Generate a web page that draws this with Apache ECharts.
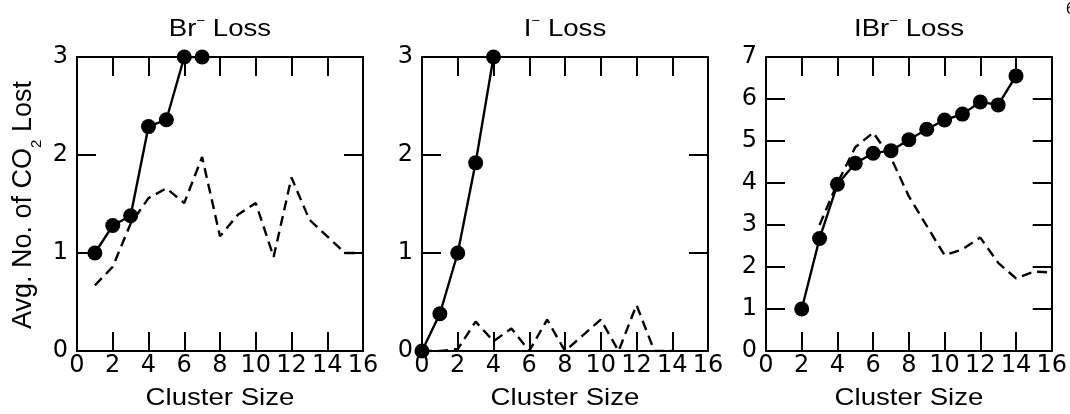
<!DOCTYPE html>
<html>
<head>
<meta charset="utf-8">
<script src="https://cdn.jsdelivr.net/npm/echarts@6/dist/echarts.min.js"></script>
<style>
html,body{margin:0;padding:0;background:#fff;}
#c{width:1070px;height:414px;}
</style>
</head>
<body>
<div id="c"></div>
<script>
// ---- data ----
var panelTitles = ['Br{sup|\u2212} Loss', 'I{sup|\u2212} Loss', 'IBr{sup|\u2212} Loss'];
var xTicks = [0, 2, 4, 6, 8, 10, 12, 14, 16];
var yMaxes = [3, 3, 7];

var brSolidX = [1, 2, 3, 4, 5, 6, 7];
var brSolidY = [1.0, 1.28, 1.38, 2.29, 2.36, 3.0, 3.0];
var brDashX = [1, 2, 3, 4, 5, 6, 7, 8, 9, 10, 11, 12, 13, 14, 15, 16];
var brDashY = [0.67, 0.86, 1.3, 1.56, 1.66, 1.51, 1.98, 1.17, 1.39, 1.51, 0.96, 1.77, 1.34, 1.17, 1.0, 1.0];

var iSolidX = [0, 1, 2, 3, 4];
var iSolidY = [0, 0.38, 1.0, 1.92, 3.0];
var iDashX = [0, 1, 2, 3, 4, 5, 6, 7, 8, 9, 10, 11, 12, 13, 14];
var iDashY = [0, 0, 0.02, 0.30, 0.10, 0.23, 0, 0.32, 0, 0.16, 0.32, 0, 0.47, 0, 0];

var ibrSolidX = [2, 3, 4, 5, 6, 7, 8, 9, 10, 11, 12, 13, 14];
var ibrSolidY = [1.0, 2.68, 3.97, 4.47, 4.71, 4.77, 5.03, 5.28, 5.5, 5.64, 5.93, 5.86, 6.55];
var ibrDashX = [3, 4, 5, 6, 7, 8, 9, 10, 11, 12, 13, 14, 15, 16];
var ibrDashY = [3.0, 4.0, 4.85, 5.2, 4.6, 3.68, 2.98, 2.28, 2.42, 2.7, 2.1, 1.73, 1.89, 1.87];

var xName = 'Cluster Size';
var yName = 'Avg. No. of CO{s|2} Lost';
var cornerText = '6';

// ---- chart ----
function pairs(xs, ys) { return xs.map(function (x, i) { return [x, ys[i]]; }); }
var FONT = '"Liberation Sans", Arial, sans-serif';
var TICKFONT = '"DejaVu Sans", sans-serif';
var gridLefts = [77, 422, 766];
var GW = 286, GT = 57, GH = 294;

var grids = [], xAxes = [], yAxes = [], series = [], graphics = [];
var solids = [[brSolidX, brSolidY], [iSolidX, iSolidY], [ibrSolidX, ibrSolidY]];
var dashes = [[brDashX, brDashY], [iDashX, iDashY], [ibrDashX, ibrDashY]];

var axisLine = { show: true, onZero: false, lineStyle: { color: '#000', width: 2 } };
var tick = { show: true, inside: true, length: 19, lineStyle: { color: '#000', width: 2 } };

for (var p = 0; p < 3; p++) {
  grids.push({ left: gridLefts[p], top: GT, width: GW, height: GH, containLabel: false });
  xAxes.push({
    gridIndex: p, type: 'value', position: 'bottom', min: 0, max: 16, interval: 2,
    axisLine: axisLine, axisTick: tick, splitLine: { show: false },
    axisLabel: { show: true, color: '#000', fontSize: 24, fontFamily: TICKFONT, margin: 3 }
  });
  xAxes.push({
    gridIndex: p, type: 'value', position: 'top', min: 0, max: 16, interval: 2,
    axisLine: axisLine, axisTick: tick, splitLine: { show: false },
    axisLabel: { show: false }
  });
  yAxes.push({
    gridIndex: p, type: 'value', position: 'left', min: 0, max: yMaxes[p], interval: 1,
    axisLine: axisLine, axisTick: tick, splitLine: { show: false },
    axisLabel: { show: true, color: '#000', fontSize: 24, fontFamily: TICKFONT, margin: 9 }
  });
  yAxes.push({
    gridIndex: p, type: 'value', position: 'right', min: 0, max: yMaxes[p], interval: 1,
    axisLine: axisLine, axisTick: tick, splitLine: { show: false },
    axisLabel: { show: false }
  });

  series.push({
    type: 'line', xAxisIndex: 2 * p, yAxisIndex: 2 * p,
    data: pairs(dashes[p][0], dashes[p][1]),
    symbol: 'none', silent: true, animation: false,
    lineStyle: { color: '#000', width: 2.4, type: [10, 6] }
  });
  series.push({
    type: 'line', xAxisIndex: 2 * p, yAxisIndex: 2 * p,
    data: pairs(solids[p][0], solids[p][1]),
    symbol: 'circle', symbolSize: 15, silent: true, animation: false,
    itemStyle: { color: '#000' },
    lineStyle: { color: '#000', width: 2.4 }
  });

  graphics.push({
    type: 'text', x: gridLefts[p] + GW / 2, y: 29, scaleX: 1.15,
    style: {
      text: panelTitles[p], fontSize: 24, fontFamily: FONT, fill: '#000',
      lineHeight: 28, textAlign: 'center', textVerticalAlign: 'middle',
      rich: { sup: { fontSize: 13, fontFamily: FONT, fill: '#000', lineHeight: 13, verticalAlign: 'top' } }
    }
  });
  graphics.push({
    type: 'text', x: gridLefts[p] + GW / 2, y: 398, scaleX: 1.15,
    style: { text: xName, fontSize: 24, fontFamily: FONT, fill: '#000', textAlign: 'center', textVerticalAlign: 'middle' }
  });
}
graphics.push({
  type: 'text', x: 24, y: 205, rotation: Math.PI / 2,
  style: {
    text: yName, fontSize: 27, fontFamily: FONT, fill: '#000', lineHeight: 40,
    textAlign: 'center', textVerticalAlign: 'middle',
    rich: { s: { fontSize: 15, fontFamily: FONT, fill: '#000', lineHeight: 10, verticalAlign: 'bottom' } }
  }
});
graphics.push({
  type: 'text', x: 1066, y: 2,
  style: { text: cornerText, fontSize: 16, fontFamily: FONT, fill: '#000', textAlign: 'left', textVerticalAlign: 'top' }
});

var chart = echarts.init(document.getElementById('c'), null, { renderer: 'canvas' });
chart.setOption({
  backgroundColor: '#fff',
  animation: false,
  grid: grids,
  xAxis: xAxes,
  yAxis: yAxes,
  series: series,
  graphic: graphics
});
</script>
</body>
</html>
